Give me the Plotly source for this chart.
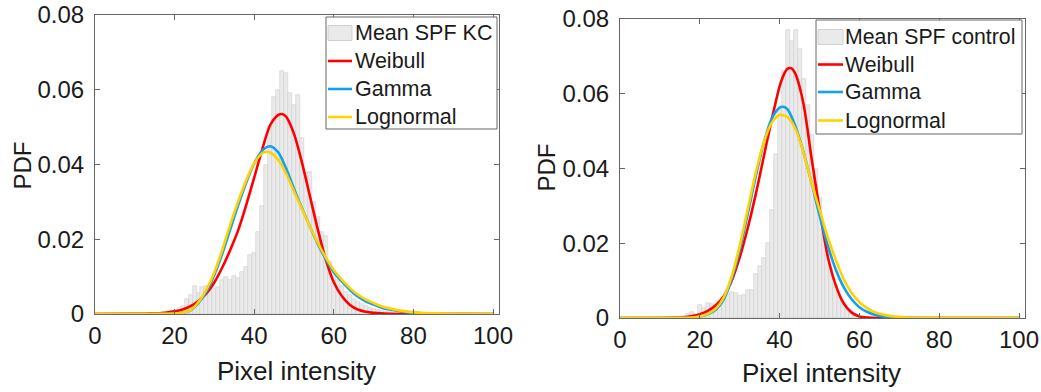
import plotly.graph_objects as go

# ---------------- data ----------------
# Left panel (KC): histogram bin centres and PDF heights
kc_bins = list(range(18, 81))
kc_pdf = [0.0001, 0.0002, 0.0005, 0.0012, 0.0022, 0.0040, 0.0050, 0.0075, 0.0055, 0.0073,
          0.0075, 0.0065, 0.0068, 0.0072, 0.0090, 0.0100, 0.0092, 0.0102, 0.0095, 0.0113,
          0.0126, 0.0157, 0.0162, 0.0220, 0.0290, 0.0400, 0.0500, 0.0580, 0.0600, 0.0650,
          0.0645, 0.0590, 0.0560, 0.0585, 0.0470, 0.0378, 0.0380, 0.0300, 0.0260, 0.0220,
          0.0210, 0.0140, 0.0110, 0.0090, 0.0075, 0.0060, 0.0050, 0.0040, 0.0033, 0.0027,
          0.0021, 0.0017, 0.0013, 0.0010, 0.0008, 0.0006, 0.0005, 0.0004, 0.0003, 0.0002,
          0.0002, 0.0001, 0.0001]

# Left panel fitted curves
kc_weib_x = [0, 10, 14, 18, 20, 22, 24, 26, 28, 30, 32, 34, 36, 38, 40, 42, 44, 46, 47, 48,
             50, 52, 54, 56, 58, 60, 62, 64, 66, 68, 70, 74, 80, 100]
kc_weib_y = [0, 0.00003, 0.0001, 0.0004, 0.0007, 0.0012, 0.0021, 0.0035, 0.0055, 0.0085,
             0.0125, 0.0172, 0.0225, 0.0292, 0.0365, 0.0440, 0.0505, 0.0532, 0.0535, 0.0528,
             0.0482, 0.0405, 0.0315, 0.0225, 0.0145, 0.0085, 0.0048, 0.0025, 0.0012, 0.0006,
             0.0003, 0.00007, 0, 0]
kc_gam_x = [0, 14, 18, 20, 22, 24, 26, 28, 30, 32, 34, 36, 38, 40, 42, 44, 46, 48, 50, 52,
            54, 56, 58, 60, 62, 64, 66, 68, 70, 72, 74, 78, 82, 88, 100]
kc_gam_y = [0, 0.00002, 0.00005, 0.0001, 0.0003, 0.0010, 0.0030, 0.0060, 0.0105, 0.0162,
            0.0227, 0.0292, 0.0352, 0.0403, 0.0437, 0.0449, 0.0433, 0.0390, 0.0335, 0.0283,
            0.0234, 0.0187, 0.0146, 0.0112, 0.0087, 0.0065, 0.0047, 0.0034, 0.0025, 0.0017,
            0.0012, 0.0005, 0.0002, 0.00005, 0]
kc_logn_x = [0, 14, 18, 20, 22, 24, 26, 28, 30, 32, 34, 36, 38, 40, 42, 43, 44, 46, 48, 50,
             52, 54, 56, 58, 60, 62, 64, 66, 68, 70, 72, 74, 78, 82, 88, 100]
kc_logn_y = [0, 0.00002, 0.00005, 0.0001, 0.0003, 0.0010, 0.0032, 0.0066, 0.0112, 0.0172,
             0.0240, 0.0302, 0.0358, 0.0403, 0.0430, 0.0434, 0.0432, 0.0413, 0.0376, 0.0328,
             0.0281, 0.0234, 0.0190, 0.0151, 0.0118, 0.0092, 0.0070, 0.0052, 0.0039, 0.0029,
             0.0021, 0.0015, 0.0007, 0.0003, 0.0001, 0]

# Right panel (control): histogram
ctl_bins = list(range(14, 64))
ctl_pdf = [0.0002, 0.0003, 0.0005, 0.0010, 0.0017, 0.0012, 0.0035, 0.0026, 0.0040, 0.0037,
           0.0035, 0.0044, 0.0055, 0.0068, 0.0070, 0.0068, 0.0060, 0.0062, 0.0075, 0.0075,
           0.0117, 0.0140, 0.0160, 0.0200, 0.0290, 0.0440, 0.0560, 0.0660, 0.0770, 0.0740,
           0.0770, 0.0720, 0.0640, 0.0570, 0.0490, 0.0400, 0.0320, 0.0240, 0.0180, 0.0130,
           0.0090, 0.0060, 0.0040, 0.0025, 0.0015, 0.0010, 0.0006, 0.0004, 0.0002, 0.0001]

ctl_weib_x = [0, 10, 14, 16, 18, 20, 22, 24, 26, 28, 30, 32, 34, 36, 38, 40, 41, 42, 43, 44,
              46, 48, 50, 52, 54, 56, 58, 60, 62, 66, 100]
ctl_weib_y = [0, 0.00002, 0.0001, 0.0002, 0.0005, 0.0010, 0.0019, 0.0034, 0.0058, 0.0100,
              0.0162, 0.0240, 0.0330, 0.0430, 0.0530, 0.0620, 0.0650, 0.0667, 0.0668, 0.0652,
              0.0572, 0.0428, 0.0292, 0.0168, 0.0090, 0.0040, 0.0015, 0.0004, 0.0001, 0, 0]
ctl_gam_x = [0, 16, 18, 20, 22, 24, 26, 28, 30, 32, 34, 36, 38, 40, 41, 42, 44, 46, 48, 50,
             52, 54, 56, 58, 60, 62, 64, 66, 68, 72, 100]
ctl_gam_y = [0, 0.00003, 0.0001, 0.0004, 0.0010, 0.0022, 0.0050, 0.0105, 0.0182, 0.0278,
             0.0378, 0.0467, 0.0533, 0.0563, 0.0565, 0.0558, 0.0512, 0.0443, 0.0362, 0.0275,
             0.0196, 0.0132, 0.0084, 0.0051, 0.0029, 0.0016, 0.0008, 0.0004, 0.0002, 0.00005, 0]
ctl_logn_x = [0, 16, 18, 20, 22, 24, 26, 28, 30, 32, 34, 36, 38, 40, 41, 42, 44, 46, 48, 50,
              52, 54, 56, 58, 60, 62, 64, 66, 68, 72, 76, 100]
ctl_logn_y = [0, 0.00003, 0.0001, 0.0004, 0.0011, 0.0025, 0.0055, 0.0112, 0.0193, 0.0290,
              0.0388, 0.0468, 0.0522, 0.0544, 0.0542, 0.0538, 0.0505, 0.0442, 0.0362, 0.0290,
              0.0218, 0.0158, 0.0105, 0.0068, 0.0042, 0.0026, 0.0015, 0.0009, 0.0005, 0.00015,
              0.00005, 0]

x_ticks = [0, 20, 40, 60, 80, 100]
y_ticks = [0, 0.02, 0.04, 0.06, 0.08]
y_tick_text = ["0", "0.02", "0.04", "0.06", "0.08"]
fit_names = ["Weibull", "Gamma", "Lognormal"]
hist_names = ["Mean SPF KC", "Mean SPF control"]
x_title = "Pixel intensity"
y_title = "PDF"

# ---------------- styling ----------------
FONT = "Arial, Liberation Sans, sans-serif"
TXT = "#1a1a1a"
BAR_FILL = "#eaeaea"
BAR_EDGE = "#d0d0d0"
COLORS = {"Weibull": "#ff0000", "Gamma": "#12a0f0", "Lognormal": "#ffd200"}
AX = "#666666"
W, H = 1041, 392

fig = go.Figure()


def add_panel(bins, pdf, hist_name, curves, xa, ya):
    fig.add_trace(go.Bar(x=bins, y=pdf, width=1, name=hist_name, showlegend=False,
                         marker=dict(color=BAR_FILL, line=dict(color=BAR_EDGE, width=0.6)),
                         xaxis=xa, yaxis=ya))
    for name, (cx, cy) in zip(fit_names, curves):
        fig.add_trace(go.Scatter(x=cx, y=cy, mode="lines", name=name, showlegend=False,
                                 line=dict(color=COLORS[name], width=2.6, shape="spline",
                                           smoothing=0.8),
                                 xaxis=xa, yaxis=ya))


add_panel(kc_bins, kc_pdf, hist_names[0],
          [(kc_weib_x, kc_weib_y), (kc_gam_x, kc_gam_y), (kc_logn_x, kc_logn_y)], "x", "y")
add_panel(ctl_bins, ctl_pdf, hist_names[1],
          [(ctl_weib_x, ctl_weib_y), (ctl_gam_x, ctl_gam_y), (ctl_logn_x, ctl_logn_y)], "x2", "y2")


# ---------------- pixel helpers ----------------
def px(x):
    return x / W


def py(y):
    return 1 - y / H


def draw_legend(box, row_y, sym_x, text_x, hist_label, fsize):
    x0, x1, y0, y1 = box
    fig.add_shape(type="rect", xref="paper", yref="paper", x0=px(x0), x1=px(x1),
                  y0=py(y1), y1=py(y0), line=dict(color=AX, width=1), fillcolor="white",
                  layer="above")
    labels = [hist_label] + fit_names
    for i, lab in enumerate(labels):
        yc = row_y[i]
        if i == 0:
            fig.add_shape(type="rect", xref="paper", yref="paper", x0=px(sym_x[0]),
                          x1=px(sym_x[1]), y0=py(yc + 7.5), y1=py(yc - 7.5),
                          line=dict(color=BAR_EDGE, width=1), fillcolor=BAR_FILL, layer="above")
        else:
            fig.add_shape(type="line", xref="paper", yref="paper", x0=px(sym_x[0]),
                          x1=px(sym_x[1]), y0=py(yc), y1=py(yc),
                          line=dict(color=COLORS[lab], width=2.6), layer="above")
        fig.add_annotation(text=lab, xref="paper", yref="paper", x=px(text_x), y=py(yc),
                           xanchor="left", yanchor="middle", showarrow=False,
                           font=dict(size=fsize, color=TXT, family=FONT))


draw_legend((326, 497, 17, 129), [33, 61, 89, 117], (328, 352), 353, hist_names[0], 21.5)
draw_legend((816, 1022, 20, 134), [37, 64.5, 92, 120.5], (818, 843), 843, hist_names[1], 21.3)

# axis titles placed at the reference's pixel positions
for (tx, ty) in [(296, 371), (821, 373)]:
    fig.add_annotation(text=x_title, xref="paper", yref="paper", x=px(tx), y=py(ty),
                       xanchor="center", yanchor="middle", showarrow=False,
                       font=dict(size=26, color=TXT, family=FONT))
for (tx, ty) in [(21.5, 166), (545.5, 168)]:
    fig.add_annotation(text=y_title, xref="paper", yref="paper", x=px(tx), y=py(ty),
                       xanchor="center", yanchor="middle", showarrow=False, textangle=-90,
                       font=dict(size=24, color=TXT, family=FONT))

common_x = dict(range=[0, 101.5], tickvals=x_ticks, ticks="inside", ticklen=5, tickcolor=AX,
                showline=True, linecolor=AX, linewidth=1, mirror="ticks", showgrid=False,
                zeroline=False, ticklabelstandoff=0, automargin=False,
                tickfont=dict(size=24, color=TXT, family=FONT))
common_y = dict(range=[0, 0.08], tickvals=y_ticks, ticktext=y_tick_text, ticks="inside", ticklen=5,
                tickcolor=AX, showline=True, linecolor=AX, linewidth=1, mirror="ticks",
                showgrid=False, zeroline=False, ticklabelstandoff=5, automargin=False,
                tickfont=dict(size=24, color=TXT, family=FONT))

fig.update_layout(
    width=W, height=H, margin=dict(l=0, r=0, t=0, b=0),
    paper_bgcolor="white", plot_bgcolor="white",
    font=dict(family=FONT), showlegend=False,
    bargap=0,
    xaxis=dict(domain=[95 / W, 499 / W], anchor="y", **common_x),
    yaxis=dict(domain=[1 - 314 / H, 1 - 15 / H], anchor="x", **common_y),
    xaxis2=dict(domain=[620 / W, 1025 / W], anchor="y2", **common_x),
    yaxis2=dict(domain=[1 - 318 / H, 1 - 19 / H], anchor="x2", **common_y),
)

fig.write_html("out.html")
